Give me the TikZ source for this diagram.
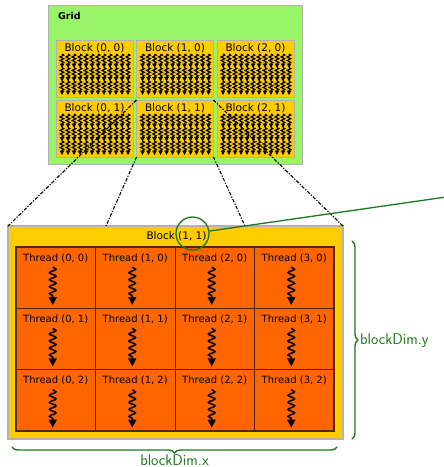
\documentclass[tikz,border=0pt]{standalone}
\usepackage{fontspec}
\newfontfamily\lblfont{DejaVu Sans}
\usetikzlibrary{decorations.pathmorphing,decorations.pathreplacing,arrows.meta,calc}
\definecolor{gridgreen}{RGB}{152,245,104}
\definecolor{blockyellow}{RGB}{255,204,0}
\definecolor{thorange}{RGB}{255,102,0}
\definecolor{darkgreen}{RGB}{30,120,30}
\definecolor{bordergray}{RGB}{178,178,178}
\definecolor{cellbrown}{RGB}{80,40,0}
\tikzset{
  gridbox/.style={draw=bordergray,line width=1pt,fill=gridgreen,anchor=north west,inner sep=0pt,outer sep=0pt,minimum width=254pt,minimum height=159pt},
  smallblock/.style={draw=bordergray,line width=0.8pt,fill=blockyellow,anchor=north west,inner sep=0pt,outer sep=0pt,minimum width=77pt,minimum height=57pt},
  bigblock/.style={draw=bordergray,line width=1.2pt,fill=blockyellow,anchor=north west,inner sep=0pt,outer sep=0pt,minimum width=335pt,minimum height=213pt},
  threadcell/.style={draw=cellbrown,line width=0.8pt,fill=thorange,anchor=north west,inner sep=0pt,outer sep=0pt,minimum width=79.5pt,minimum height=61.33pt},
  lbl/.style={font=\lblfont\fontsize{10}{12}\selectfont,inner sep=0pt,text=black},
  blbl/.style={font=\lblfont\fontsize{10.5}{12}\selectfont,inner sep=0pt,text=black},
  wavy/.style={line width=1.6pt,-{Triangle[width=8pt,length=8pt]},decorate,decoration={snake,amplitude=3.2pt,segment length=7pt,post length=6pt}},
  miniwavy/.style={line width=1.2pt,-{Triangle[width=4.5pt,length=4.5pt]},decorate,decoration={snake,amplitude=1.8pt,segment length=3.6pt,post length=3pt}},
  zoomline/.style={black,line width=1.1pt,dash pattern=on 3.5pt off 1.5pt on 1.2pt off 1.5pt},
  greenline/.style={darkgreen,line width=1.3pt},
  dimbrace/.style={darkgreen,line width=1.4pt,line cap=round,decorate,decoration={brace,amplitude=6pt}},
  dimlbl/.style={text=darkgreen,font=\sffamily\fontsize{15.5}{18}\selectfont,inner sep=0pt}
}
\begin{document}
\begin{tikzpicture}[x=1pt,y=-1pt]
\useasboundingbox (0,0) rectangle (444,467);
% Grid
\node[gridbox] (grid) at (48,5) {};
\node[font=\lblfont\bfseries\fontsize{9.5}{11}\selectfont,anchor=west,inner sep=0pt] (gridlbl) at (58,16) {Grid};
% small blocks
\foreach \c/\x in {0/56,1/136.5,2/217}{
  \foreach \r/\y in {0/40,1/100}{
    \node[smallblock] (sb\c\r) at (\x,\y) {};
    \node[blbl] (sbl\c\r) at ($(sb\c\r.north)+(0,8)$) {Block (\c, \r)};
    \foreach \k in {0,...,11}{
      \foreach \m in {0,1,2}{
        \draw[miniwavy] ($(sb\c\r.north west)+(6+6*\k,14+13.5*\m)$) -- ($(sb\c\r.north west)+(6+6*\k,28+13.5*\m)$);
      }
    }
  }
}
% big block
\node[bigblock] (big) at (8,226) {};
\node[blbl] (bigtitle) at (176.5,236.5) {Block (1, 1)};
% thread cells
\foreach \i in {0,1,2,3}{
  \foreach \j in {0,1,2}{
    \node[threadcell] (c\i\j) at ({16+79.5*\i},{247+61.33*\j}) {};
    \node[lbl] (cl\i\j) at ($(c\i\j.north)+(0,11)$) {Thread (\i, \j)};
    \draw[wavy] ($(c\i\j.north)+(-3,20)$) -- ($(c\i\j.north)+(-3,58)$);
  }
}
\draw[cellbrown,line width=1.5pt] (c00.north west) rectangle (c32.south east);
% zoom lines
\coordinate (t2) at (106,226);
\coordinate (t3) at (245,226);
\draw[zoomline] (sb11.north west) -- (big.north west);
\draw[zoomline] (sb11.south west) -- (t2);
\draw[zoomline] (sb11.south east) -- (t3);
\draw[zoomline] (sb11.north east) -- (big.north east);
% green circle and line
\node[draw=darkgreen,line width=1.3pt,circle,minimum size=33pt,inner sep=0pt] (circ) at (192.5,233.5) {};
\coordinate (far) at (446,197);
\draw[greenline] (circ) -- (far);
% braces
\coordinate (by1) at (352,241);
\coordinate (by2) at (352,439);
\draw[dimbrace] (by1) -- (by2);
\node[dimlbl,anchor=west] (ylbl) at (360,341) {blockDim.y};
\coordinate (bx1) at (337,447);
\coordinate (bx2) at (12,447);
\draw[dimbrace] (bx1) -- (bx2);
\node[dimlbl] (xlbl) at (174.5,460) {blockDim.x};
\end{tikzpicture}
\end{document}
